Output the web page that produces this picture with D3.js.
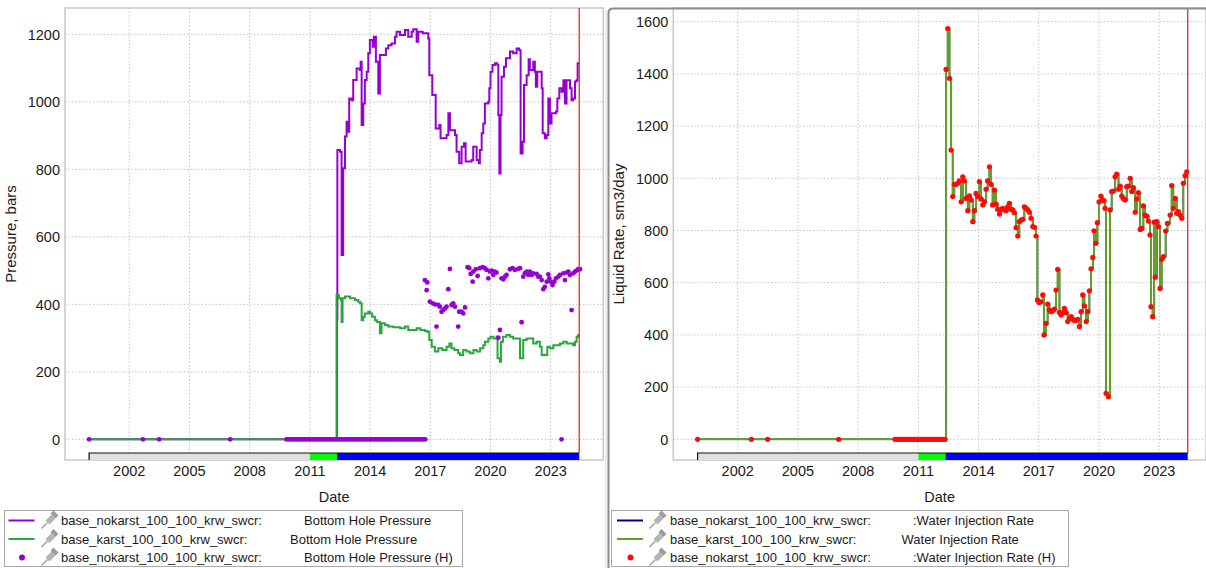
<!DOCTYPE html>
<html><head><meta charset="utf-8">
<script src="https://cdn.jsdelivr.net/npm/d3@7"></script>
<style>
html,body{margin:0;padding:0;background:#fff;}
svg{display:block;font-family:"Liberation Sans",Arial,sans-serif;}
</style></head><body>
<svg id="chart" width="1206" height="568"></svg>
<script>
// ---- data (time as decimal year) ----
const yearTicks = [2002, 2005, 2008, 2011, 2014, 2017, 2020, 2023];
const pressureTicks = [0, 200, 400, 600, 800, 1000, 1200];
const rateTicks = [0, 200, 400, 600, 800, 1000, 1200, 1400, 1600];

// well status periods: shut / start-up / injecting
const phaseStarts = [2000.0, 2011.0, 2012.35];
const phaseEnd = 2024.42;

// sparse early report dates with zero readings
const earlyZeroDates = [2000.0, 2002.68, 2003.49, 2007.03];

// monthly report dates with zero bottom hole pressure
const bhpZeroMonths = [
  "2009-11","2009-12",
  "2010-01","2010-02","2010-03","2010-04","2010-05","2010-06","2010-07","2010-08","2010-09","2010-10","2010-11","2010-12",
  "2011-01","2011-02","2011-03","2011-04","2011-05","2011-06","2011-07","2011-08","2011-09","2011-10","2011-11","2011-12",
  "2012-01","2012-02","2012-03","2012-04","2012-05","2012-06","2012-07","2012-08","2012-09","2012-10","2012-11","2012-12",
  "2013-01","2013-02","2013-03","2013-04","2013-05","2013-06","2013-07","2013-08","2013-09","2013-10","2013-11","2013-12",
  "2014-01","2014-02","2014-03","2014-04","2014-05","2014-06","2014-07","2014-08","2014-09","2014-10","2014-11","2014-12",
  "2015-01","2015-02","2015-03","2015-04","2015-05","2015-06","2015-07","2015-08","2015-09","2015-10","2015-11","2015-12",
  "2016-01","2016-02","2016-03","2016-04","2016-05","2016-06","2016-07","2016-08","2016-09","2016-10"
];
const bhpLateZeroDates = [2023.54];

// monthly report dates with zero injection (before start-up)
const rateZeroMonths = [
  "2009-11","2009-12",
  "2010-01","2010-02","2010-03","2010-04","2010-05","2010-06","2010-07","2010-08","2010-09","2010-10","2010-11","2010-12",
  "2011-01","2011-02","2011-03","2011-04","2011-05","2011-06","2011-07","2011-08","2011-09","2011-10","2011-11","2011-12",
  "2012-01","2012-02","2012-03","2012-04","2012-05"
];

// simulated bottom hole pressure, nokarst case [year, bars]
const bhpNokarst = [
  [2000.0,0],[2012.33,0],[2012.35,355],[2012.37,857],[2012.50,852],[2012.58,546],[2012.66,803],[2012.75,897],
  [2012.83,941],[2012.91,911],[2012.96,1010],[2013.08,1005],[2013.16,1065],[2013.33,1099],[2013.49,1094],
  [2013.53,1119],[2013.58,931],[2013.66,995],[2013.74,1065],[2013.83,1089],[2013.91,1144],[2013.99,1183],
  [2014.13,1163],[2014.19,1193],[2014.29,1119],[2014.41,1025],[2014.49,1139],[2014.62,1139],[2014.79,1158],
  [2014.91,1168],[2015.07,1173],[2015.24,1193],[2015.32,1208],[2015.49,1198],[2015.74,1213],[2015.90,1193],
  [2016.07,1208],[2016.15,1215],[2016.32,1178],[2016.40,1208],[2016.62,1203],[2016.90,1188],[2016.95,1079],
  [2017.10,1020],[2017.27,921],[2017.45,931],[2017.51,892],[2017.81,902],[2017.90,966],[2017.98,916],
  [2018.23,902],[2018.31,852],[2018.44,818],[2018.56,867],[2018.68,877],[2018.76,823],[2019.06,828],
  [2019.14,867],[2019.31,828],[2019.42,818],[2019.47,857],[2019.56,907],[2019.64,936],[2019.72,995],
  [2019.89,1000],[2019.94,1040],[2020.00,1089],[2020.10,1109],[2020.22,1114],[2020.34,1109],[2020.39,961],
  [2020.44,788],[2020.50,961],[2020.55,1074],[2020.67,1104],[2020.77,1129],[2020.97,1149],[2021.13,1144],
  [2021.30,1158],[2021.43,1153],[2021.50,847],[2021.60,882],[2021.67,1050],[2021.80,1079],[2021.90,1126],
  [2021.96,1094],[2022.13,1119],[2022.21,1089],[2022.26,1045],[2022.33,1089],[2022.55,1040],[2022.60,907],
  [2022.71,892],[2022.80,902],[2022.88,1010],[2022.96,936],[2023.04,966],[2023.26,971],[2023.33,1010],
  [2023.43,1040],[2023.54,1030],[2023.63,1064],[2023.71,995],[2023.79,1064],[2023.96,1040],[2024.04,1005],
  [2024.12,1010],[2024.21,1060],[2024.29,1064],[2024.34,1114],[2024.42,1114]
];

// simulated bottom hole pressure, karst case [year, bars]
const bhpKarst = [
  [2000.0,0],[2012.33,0],[2012.33,428],[2012.45,418],[2012.55,413],[2012.58,348],[2012.63,418],[2012.75,423],
  [2013.00,418],[2013.25,413],[2013.41,408],[2013.50,403],[2013.58,353],[2013.66,363],[2013.74,373],
  [2013.91,378],[2014.00,373],[2014.10,363],[2014.24,353],[2014.35,348],[2014.49,314],[2014.57,344],
  [2014.74,339],[2014.91,334],[2015.16,332],[2015.50,329],[2015.74,334],[2015.90,324],[2016.10,324],
  [2016.32,329],[2016.50,324],[2016.73,321],[2016.85,319],[2016.95,294],[2017.07,274],[2017.23,260],
  [2017.40,270],[2017.60,265],[2017.81,274],[2017.95,284],[2018.06,270],[2018.20,265],[2018.39,255],
  [2018.48,250],[2018.64,265],[2018.80,260],[2018.97,255],[2019.15,265],[2019.31,260],[2019.48,270],
  [2019.64,279],[2019.72,289],[2019.89,299],[2020.00,304],[2020.15,299],[2020.30,304],[2020.35,240],
  [2020.47,230],[2020.52,289],[2020.62,304],[2020.80,309],[2020.97,304],[2021.13,299],[2021.38,299],
  [2021.47,240],[2021.55,240],[2021.63,294],[2021.80,299],[2021.96,299],[2022.13,284],[2022.30,289],
  [2022.46,274],[2022.55,250],[2022.71,250],[2022.83,274],[2022.96,270],[2023.13,279],[2023.30,279],
  [2023.46,284],[2023.63,289],[2023.80,284],[2023.96,284],[2024.12,279],[2024.21,289],[2024.29,304],
  [2024.37,309],[2024.42,309]
];

// measured bottom hole pressure (non-zero readings) [year, bars]
const bhpObserved = [
  [2016.73,472],[2016.82,442],[2016.85,465],[2016.98,408],[2017.12,403],[2017.23,400],[2017.31,334],
  [2017.40,398],[2017.48,393],[2017.56,378],[2017.65,383],[2017.73,388],[2017.81,393],[2017.90,445],
  [2017.98,505],[2018.06,398],[2018.14,403],[2018.23,393],[2018.39,334],[2018.44,378],[2018.56,378],
  [2018.64,373],[2018.73,391],[2018.86,510],[2018.94,507],[2019.01,490],[2019.11,467],[2019.14,497],
  [2019.27,504],[2019.36,484],[2019.47,507],[2019.61,510],[2019.72,507],[2019.81,502],[2019.89,477],
  [2019.97,497],[2020.06,500],[2020.14,487],[2020.22,497],[2020.30,494],[2020.39,301],[2020.47,324],
  [2020.55,477],[2020.64,474],[2020.72,482],[2020.80,487],[2020.97,504],[2021.10,507],[2021.22,502],
  [2021.38,505],[2021.47,507],[2021.55,347],[2021.63,482],[2021.71,492],[2021.80,497],[2021.88,487],
  [2021.96,497],[2022.05,487],[2022.13,492],[2022.30,490],[2022.38,482],[2022.46,482],[2022.55,472],
  [2022.63,445],[2022.71,452],[2022.80,467],[2022.88,489],[2022.93,477],[2023.00,467],[2023.09,457],
  [2023.18,467],[2023.26,477],[2023.38,482],[2023.46,487],[2023.63,492],[2023.71,472],[2023.79,494],
  [2023.88,497],[2023.96,487],[2024.04,383],[2024.12,492],[2024.21,497],[2024.29,500],[2024.37,504],
  [2024.46,504]
];

// measured water injection rate after start-up [year, sm3/day]
const injObserved = [
  [2012.38,1417],[2012.46,1574],[2012.55,1383],[2012.63,1108],[2012.71,930],[2012.79,977],[2012.88,977],
  [2012.96,981],[2013.04,990],[2013.13,910],[2013.21,1006],[2013.29,990],[2013.38,923],[2013.46,876],
  [2013.54,933],[2013.62,917],[2013.71,834],[2013.79,876],[2013.87,942],[2013.96,930],[2014.04,987],
  [2014.12,921],[2014.21,898],[2014.29,910],[2014.37,958],[2014.45,990],[2014.54,1044],[2014.62,977],
  [2014.70,898],[2014.79,955],[2014.87,901],[2014.95,881],[2015.04,863],[2015.12,881],[2015.20,885],
  [2015.29,879],[2015.37,876],[2015.45,891],[2015.53,904],[2015.62,881],[2015.70,879],[2015.78,868],
  [2015.87,811],[2015.95,779],[2016.03,834],[2016.12,840],[2016.20,843],[2016.28,891],[2016.37,885],
  [2016.45,879],[2016.53,870],[2016.61,847],[2016.70,815],[2016.78,812],[2016.86,779],[2016.93,534],
  [2017.01,524],[2017.10,527],[2017.20,553],[2017.26,400],[2017.36,444],[2017.44,518],[2017.53,495],
  [2017.61,489],[2017.69,493],[2017.78,499],[2017.86,572],[2017.94,651],[2018.03,486],[2018.11,476],
  [2018.19,485],[2018.27,502],[2018.36,485],[2018.44,451],[2018.52,463],[2018.61,470],[2018.69,461],
  [2018.77,455],[2018.86,455],[2018.94,460],[2019.02,432],[2019.11,489],[2019.19,553],[2019.27,511],
  [2019.36,451],[2019.44,489],[2019.52,569],[2019.60,653],[2019.69,697],[2019.75,799],[2019.84,751],
  [2019.92,830],[2020.00,910],[2020.09,932],[2020.17,917],[2020.25,914],[2020.30,885],[2020.35,176],
  [2020.47,163],[2020.55,879],[2020.63,949],[2020.72,951],[2020.80,1006],[2020.88,1016],[2020.97,958],
  [2021.05,970],[2021.13,932],[2021.21,923],[2021.30,917],[2021.38,968],[2021.46,970],[2021.55,1000],
  [2021.63,949],[2021.71,964],[2021.80,870],[2021.88,921],[2021.96,945],[2022.05,804],[2022.13,808],
  [2022.21,894],[2022.29,859],[2022.38,855],[2022.46,836],[2022.54,783],[2022.59,508],[2022.67,470],
  [2022.75,832],[2022.80,621],[2022.88,834],[2022.96,815],[2023.04,578],[2023.12,690],[2023.21,700],
  [2023.32,798],[2023.41,827],[2023.54,859],[2023.62,972],[2023.70,885],[2023.80,923],[2023.87,866],
  [2023.95,872],[2024.04,859],[2024.12,847],[2024.20,981],[2024.29,1010],[2024.37,1025]
];

const bhpLegend = [
  ["base_nokarst_100_100_krw_swcr:", "Bottom Hole Pressure"],
  ["base_karst_100_100_krw_swcr:", "Bottom Hole Pressure"],
  ["base_nokarst_100_100_krw_swcr:", "Bottom Hole Pressure (H)"]
];
const injLegend = [
  ["base_nokarst_100_100_krw_swcr:", ":Water Injection Rate"],
  ["base_karst_100_100_krw_swcr:", "Water Injection Rate"],
  ["base_nokarst_100_100_krw_swcr:", ":Water Injection Rate (H)"]
];

// ---- helpers ----
const monthToYear = s => { const [y, m] = s.split("-").map(Number); return y + (m - 1) / 12; };
const zeroPts = dates => dates.map(t => [t, 0]);

const bhpZeroPts = zeroPts(earlyZeroDates.concat(bhpZeroMonths.map(monthToYear), bhpLateZeroDates));
const injZeroPts = zeroPts(earlyZeroDates.concat(rateZeroMonths.map(monthToYear)));
const injAll = injZeroPts.concat(injObserved);
const injSim = injAll.concat([[phaseEnd, injObserved[injObserved.length - 1][1]]]);

const svg = d3.select("#chart");
const TEXT = "#1a1a1a";
const phaseColors = ["#e0e0e0", "#00ff00", "#0000ff"];

function drawPanel(p) {
  const g = svg.append("g");
  const x = d3.scaleLinear().domain(p.xDomain).range([p.left, p.right]);
  const y = d3.scaleLinear().domain(p.yDomain).range([p.bottom, p.top]);
  const bandTop = p.bottom - 7;

  // grid
  g.append("g").selectAll("line").data(p.yTicks).join("line")
    .attr("x1", p.left).attr("x2", p.right)
    .attr("y1", d => y(d)).attr("y2", d => y(d))
    .attr("stroke", "#c4c4c4").attr("stroke-dasharray", "1.5,2");
  g.append("g").selectAll("line").data(yearTicks).join("line")
    .attr("x1", d => x(d)).attr("x2", d => x(d))
    .attr("y1", p.top).attr("y2", bandTop)
    .attr("stroke", "#c4c4c4").attr("stroke-dasharray", "1.5,2");

  // plot frame
  g.append("rect").attr("x", p.left).attr("y", p.top)
    .attr("width", p.right - p.left).attr("height", p.bottom - p.top)
    .attr("fill", "none").attr("stroke", "#c8c8c8").attr("stroke-width", 1.5);

  // series
  const clipId = "clip" + p.id;
  g.append("clipPath").attr("id", clipId).append("rect")
    .attr("x", p.left).attr("y", p.top).attr("width", p.right - p.left).attr("height", bandTop - p.top);
  const plot = g.append("g").attr("clip-path", `url(#${clipId})`);
  const line = d3.line().x(d => x(d[0])).y(d => y(d[1])).curve(d3.curveStepAfter);
  p.lines.forEach(s => {
    plot.append("path").datum(s.data).attr("d", line)
      .attr("fill", "none").attr("stroke", s.color).attr("stroke-width", s.width)
      .attr("stroke-linejoin", "miter");
  });
  plot.append("g").selectAll("circle").data(p.dots.data).join("circle")
    .attr("cx", d => x(d[0])).attr("cy", d => y(d[1])).attr("r", p.dots.r)
    .attr("fill", p.dots.color);

  // status band along the bottom
  const ends = phaseStarts.slice(1).concat([phaseEnd]);
  g.append("g").selectAll("rect").data(phaseStarts).join("rect")
    .attr("x", (d) => x(d)).attr("y", bandTop)
    .attr("width", (d, i) => x(ends[i]) - x(d)).attr("height", p.bottom - bandTop)
    .attr("fill", (d, i) => phaseColors[i]);
  g.append("path")
    .attr("d", `M${x(phaseStarts[0])},${p.bottom}V${bandTop}H${x(phaseEnd)}`)
    .attr("fill", "none").attr("stroke", "#111").attr("stroke-width", 1.2);

  // current date marker
  g.append("line").attr("x1", x(phaseEnd)).attr("x2", x(phaseEnd))
    .attr("y1", p.top).attr("y2", bandTop).attr("stroke", "#e8161b").attr("stroke-width", 1.2);

  // tick labels
  g.append("g").selectAll("text").data(p.yTicks).join("text")
    .attr("x", p.left - 5).attr("y", d => y(d)).attr("dy", "0.36em")
    .attr("text-anchor", "end").attr("font-size", 14.5).attr("fill", TEXT).text(d => d);
  g.append("g").selectAll("text").data(yearTicks).join("text")
    .attr("x", d => x(d)).attr("y", 476)
    .attr("text-anchor", "middle").attr("font-size", 14.5).attr("fill", TEXT).text(d => d);

  // axis titles
  g.append("text").attr("x", (p.left + p.right) / 2).attr("y", 502)
    .attr("text-anchor", "middle").attr("font-size", 14.5).attr("fill", TEXT).text("Date");
  g.append("text")
    .attr("transform", `translate(${p.titleX},${(p.top + p.bottom) / 2}) rotate(-90)`)
    .attr("text-anchor", "middle").attr("dy", "0.36em")
    .attr("font-size", 15).attr("fill", TEXT).text(p.yTitle);

  // legend
  const L = p.legend;
  g.append("rect").attr("x", L.x).attr("y", 510.5).attr("width", L.w).attr("height", 56)
    .attr("fill", "#fff").attr("stroke", "#a8a8a8");
  const rowsY = [520.5, 539, 557.5];
  L.rows.forEach((r, i) => {
    const cy = rowsY[i];
    const it = L.items[i];
    if (it.type === "line") {
      g.append("line").attr("x1", L.x + L.sw).attr("x2", L.x + L.sw + 26).attr("y1", cy).attr("y2", cy)
        .attr("stroke", it.color).attr("stroke-width", 2);
    } else {
      g.append("circle").attr("cx", L.x + L.sw + 13.5).attr("cy", cy).attr("r", 3).attr("fill", it.color);
    }
    // pushpin icon
    const px = L.x + L.pin;
    const pin = g.append("g").attr("transform", `translate(${px},${cy})`);
    pin.append("line").attr("x1", 0).attr("y1", 8).attr("x2", 6).attr("y2", 2)
      .attr("stroke", "#9a9a9a").attr("stroke-width", 1.3);
    pin.append("path").attr("d", "M4,0 L10,-6 L14,-2 L8,4 Z").attr("fill", "#b4b4b4");
    pin.append("path").attr("d", "M9,-7 L12,-10 L17,-5 L14,-2 Z").attr("fill", "#9c9c9c");
    g.append("text").attr("x", L.x + L.nameX).attr("y", cy).attr("dy", "0.36em")
      .attr("font-size", 13).attr("fill", TEXT).text(r[0]);
    g.append("text").attr("x", L.x + L.descX[i]).attr("y", cy).attr("dy", "0.36em")
      .attr("font-size", 13).attr("fill", TEXT).text(r[1]);
  });
}

// left: bottom hole pressure
drawPanel({
  id: "L", left: 65, right: 603.3, top: 8, bottom: 460,
  xDomain: [1998.80, 2025.62], yDomain: [-61.2, 1278],
  yTicks: pressureTicks, yTitle: "Pressure, bars", titleX: 11,
  lines: [
    { data: bhpNokarst, color: "#9600d2", width: 2 },
    { data: bhpKarst, color: "#2aa63c", width: 2 }
  ],
  dots: { data: bhpZeroPts.concat(bhpObserved), color: "#9600d2", r: 2.4 },
  legend: { x: 4.5, w: 458, sw: 4, pin: 37, nameX: 56.5, descX: [299.5, 285.5, 299.5],
    rows: bhpLegend,
    items: [{ type: "line", color: "#9600d2" }, { type: "line", color: "#2aa63c" }, { type: "dot", color: "#9600d2" }] }
});

// right: water injection rate
drawPanel({
  id: "R", left: 673.3, right: 1206, top: 8, bottom: 460,
  xDomain: [1998.79, 2025.33], yDomain: [-79.3, 1652.5],
  yTicks: rateTicks, yTitle: "Liquid Rate, sm3/day", titleX: 619,
  lines: [
    { data: injSim, color: "#00007f", width: 1.5 },
    { data: injSim, color: "#62a02a", width: 2 }
  ],
  dots: { data: injAll, color: "#ff0a0a", r: 2.6 },
  legend: { x: 611.5, w: 457, sw: 5.5, pin: 38, nameX: 58.5, descX: [301.5, 290, 301.5],
    rows: injLegend,
    items: [{ type: "line", color: "#00007f" }, { type: "line", color: "#62a02a" }, { type: "dot", color: "#ff0a0a" }] }
});

// panel frames
svg.append("line").attr("x1", 606).attr("x2", 606).attr("y1", 10).attr("y2", 568)
  .attr("stroke", "#d8d8d8").attr("stroke-width", 1);
svg.append("path").attr("d", "M608.5,568 V13 Q608.5,8.5 613,8.5 H1206")
  .attr("fill", "none").attr("stroke", "#8c8c8c").attr("stroke-width", 2);
</script></body></html>
